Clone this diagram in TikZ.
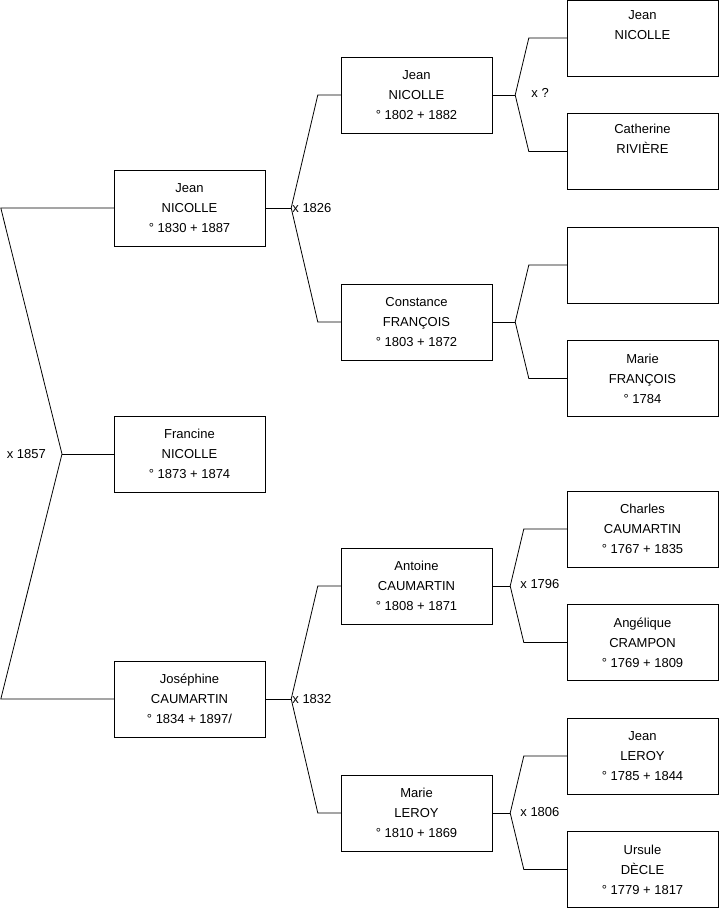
\documentclass[tikz,border=0pt]{standalone}
\usepackage{fontspec}
\setmainfont{Liberation Sans}
\usetikzlibrary{positioning}
\tikzset{
  every node/.style={font=\fontsize{13}{20}\selectfont,text=black},
  person/.style={draw=black,fill=white,minimum width=151pt,minimum height=76pt,inner sep=0pt,align=center},
  link/.style={draw=black,line width=0.8pt},
  union/.style={inner sep=0pt,anchor=west}
}

\begin{document}
\begin{tikzpicture}[x=1pt,y=-1pt]
  \useasboundingbox (0,0) rectangle (719,908);

  % generation 1
  \node[person] (jean1830) at (189.5,208) {Jean\\NICOLLE\\° 1830 + 1887};
  \node[person] (francine) at (189.5,454) {Francine\\NICOLLE\\° 1873 + 1874};
  \node[person] (josephine) at (189.5,699) {Joséphine\\CAUMARTIN\\° 1834 + 1897/};

  % generation 2
  \node[person] (jean1802) at (416.5,95) {Jean\\NICOLLE\\° 1802 + 1882};
  \node[person] (constance) at (416.5,322) {Constance\\FRANÇOIS\\° 1803 + 1872};
  \node[person] (antoine) at (416.5,586) {Antoine\\CAUMARTIN\\° 1808 + 1871};
  \node[person] (marieL) at (416.5,813) {Marie\\LEROY\\° 1810 + 1869};

  % generation 3
  \node[person] (jeanN) at (642.5,38) {Jean\\NICOLLE\\\strut};
  \node[person,below=37pt of jeanN] (catherine) {Catherine\\RIVIÈRE\\\strut};
  \node[person] (unknown) at (642.5,265) {};
  \node[person,below=37pt of unknown] (marieF) {Marie\\FRANÇOIS\\° 1784};
  \node[person] (charles) at (642.5,529) {Charles\\CAUMARTIN\\° 1767 + 1835};
  \node[person,below=37pt of charles] (angelique) {Angélique\\CRAMPON\\° 1769 + 1809};
  \node[person] (jeanL) at (642.5,756) {Jean\\LEROY\\° 1785 + 1844};
  \node[person,below=37pt of jeanL] (ursule) {Ursule\\DÈCLE\\° 1779 + 1817};

  % forks
  \coordinate (m1857) at (62,454);
  \coordinate (m1826) at ([xshift=26]jean1830.east);
  \coordinate (m1832) at ([xshift=26]josephine.east);
  \coordinate (mNic) at ([xshift=23]jean1802.east);
  \coordinate (mFra) at ([xshift=23]constance.east);
  \coordinate (m1796) at ([xshift=18]antoine.east);
  \coordinate (m1806) at ([xshift=18]marieL.east);

  \draw[link] (jean1830.west) -- ([xshift=-113]jean1830.west) -- (m1857) -- ([xshift=-113]josephine.west) -- (josephine.west);
  \draw[link] (m1857) -- (francine.west);

  \draw[link] (jean1830.east) -- (m1826);
  \draw[link] (jean1802.west) -- ([xshift=-23]jean1802.west) -- (m1826) -- ([xshift=-23]constance.west) -- (constance.west);
  \draw[link] (josephine.east) -- (m1832);
  \draw[link] (antoine.west) -- ([xshift=-23]antoine.west) -- (m1832) -- ([xshift=-23]marieL.west) -- (marieL.west);

  \draw[link] (jean1802.east) -- (mNic);
  \draw[link] (jeanN.west) -- ([xshift=-38]jeanN.west) -- (mNic) -- ([xshift=-38]catherine.west) -- (catherine.west);
  \draw[link] (constance.east) -- (mFra);
  \draw[link] (unknown.west) -- ([xshift=-38]unknown.west) -- (mFra) -- ([xshift=-38]marieF.west) -- (marieF.west);
  \draw[link] (antoine.east) -- (m1796);
  \draw[link] (charles.west) -- ([xshift=-43]charles.west) -- (m1796) -- ([xshift=-43]angelique.west) -- (angelique.west);
  \draw[link] (marieL.east) -- (m1806);
  \draw[link] (jeanL.west) -- ([xshift=-43]jeanL.west) -- (m1806) -- ([xshift=-43]ursule.west) -- (ursule.west);

  % marriages
  \node[union,anchor=east] (x1857) at ([xshift=-16]m1857) {x 1857};
  \node[union] (x1826) at ([xshift=1]m1826) {x 1826};
  \node[union] (x1832) at ([xshift=1]m1832) {x 1832};
  \node[union] (xq) at ([xshift=16,yshift=2]mNic) {x ?};
  \node[union] (x1796) at ([xshift=10,yshift=2]m1796) {x 1796};
  \node[union] (x1806) at ([xshift=10,yshift=1]m1806) {x 1806};
\end{tikzpicture}
\end{document}
